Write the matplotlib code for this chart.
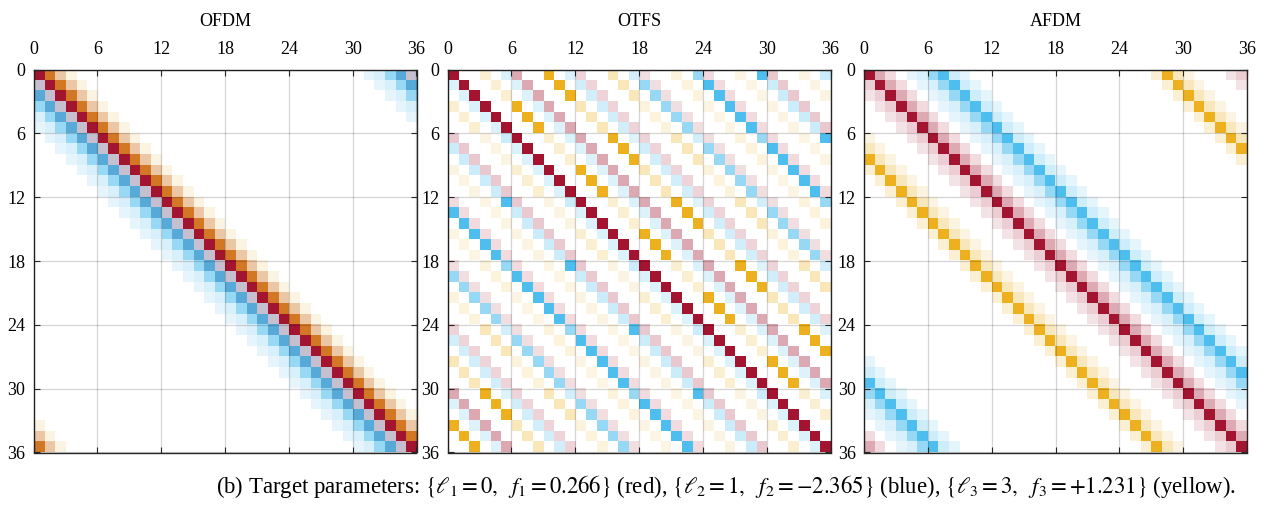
import numpy as np
import matplotlib
matplotlib.use("Agg")
import matplotlib.pyplot as plt
from matplotlib.colors import to_rgb

plt.rcParams["font.family"] = ["Liberation Serif", "DejaVu Serif"]
plt.rcParams["mathtext.fontset"] = "stix"

N = 36
ticks = [0, 6, 12, 18, 24, 30, 36]
titles = ["OFDM", "OTFS", "AFDM"]

# MATLAB default colours used for the three paths
c_red = "#A2142F"
c_blue = "#4DBEEE"
c_yel = "#EDB120"

# OFDM: circulant bands, offset = column - row, amplitude (normalised)
ofdm_red_off = [-2, -1, 0, 1, 2]
ofdm_red_amp = [0.12, 0.21, 1.0, 0.36, 0.15]
ofdm_blue_off = [-5, -4, -3, -2, -1, 0]
ofdm_blue_amp = [0.14, 0.22, 0.58, 1.0, 0.27, 0.15]
ofdm_yel_off = [0, 1, 2, 3]
ofdm_yel_amp = [0.19, 1.0, 0.30, 0.13]

# AFDM: circulant bands
afdm_red_off = [-2, -1, 0, 1, 2]
afdm_red_amp = [0.12, 0.21, 1.0, 0.36, 0.15]
afdm_blue_off = [4, 5, 6, 7, 8, 9]
afdm_blue_amp = [0.14, 0.22, 0.58, 1.0, 0.27, 0.15]
afdm_yel_off = [-9, -8, -7, -6]
afdm_yel_amp = [0.19, 1.0, 0.30, 0.13]

# OTFS: 6x6 blocks, inner shift d fixed per path, amplitude per block shift 0..5
blk = 6
otfs_red_d = 0
otfs_red_amp = [1.0, 0.37, 0.18, 0.14, 0.15, 0.23]
otfs_blue_d = 5
otfs_blue_amp = [0.20, 0.19, 0.25, 0.58, 1.0, 0.29]
otfs_yel_d = 3
otfs_yel_amp = [0.20, 1.0, 0.31, 0.15, 0.12, 0.13]


def band(off, amp):
    A = np.zeros((N, N))
    r = np.arange(N)
    for o, a in zip(off, amp):
        A[r, (r + o) % N] = a
    return A


def blocks(d, amp):
    A = np.zeros((N, N))
    for I in range(blk):
        for i in range(blk):
            for D, a in enumerate(amp):
                J = (I + D) % blk
                j = (i + d) % blk
                A[blk * I + i, blk * J + j] = a
    return A


def compose(layers):
    img = np.ones((N, N, 3))
    for col, A in layers:
        c = np.array(to_rgb(col))
        img = A[..., None] * c + (1 - A[..., None]) * img
    return img


imgs = [
    compose([(c_blue, band(ofdm_blue_off, ofdm_blue_amp)),
             (c_yel, band(ofdm_yel_off, ofdm_yel_amp)),
             (c_red, band(ofdm_red_off, ofdm_red_amp))]),
    compose([(c_blue, blocks(otfs_blue_d, otfs_blue_amp)),
             (c_yel, blocks(otfs_yel_d, otfs_yel_amp)),
             (c_red, blocks(otfs_red_d, otfs_red_amp))]),
    compose([(c_blue, band(afdm_blue_off, afdm_blue_amp)),
             (c_yel, band(afdm_yel_off, afdm_yel_amp)),
             (c_red, band(afdm_red_off, afdm_red_amp))]),
]

W, H = 1265, 505
fig = plt.figure(figsize=(W / 100, H / 100), dpi=100)
lefts = [33.5, 447.5, 864]
size = 383

for k in range(3):
    ax = fig.add_axes([lefts[k] / W, (H - 452.5) / H, size / W, size / H])
    ax.imshow(imgs[k], extent=(0, N, N, 0), interpolation="nearest", aspect="auto")
    ax.set_xlim(0, N)
    ax.set_ylim(N, 0)
    ax.set_xticks(ticks)
    ax.set_yticks(ticks)
    ax.xaxis.tick_top()
    ax.tick_params(direction="in", top=True, bottom=True, left=True, right=True,
                   labeltop=True, labelbottom=False, length=4, width=0.8,
                   labelsize=13, color="#262626")
    ax.tick_params(axis="x", pad=8)
    ax.tick_params(axis="y", pad=6)
    ax.grid(True, color="k", alpha=0.17, lw=0.9)
    ax.set_axisbelow(False)
    for s in ax.spines.values():
        s.set_color("#262626")
        s.set_linewidth(1.0)
    fig.text((lefts[k] + size / 2) / W, 1 - 22 / H, titles[k], ha="center",
             va="center", fontsize=13)

fig.text(726 / W, 1 - 486 / H,
         r"(b) Target parameters: $\{\ell_1 = 0,\ \ f_1 = 0.266\}$ (red), "
         r"$\{\ell_2 = 1,\ \ f_2 = {-}2.365\}$ (blue), "
         r"$\{\ell_3 = 3,\ \ f_3 = {+}1.231\}$ (yellow).",
         ha="center", va="center", fontsize=16.4)

fig.savefig("out.png", dpi=100)
